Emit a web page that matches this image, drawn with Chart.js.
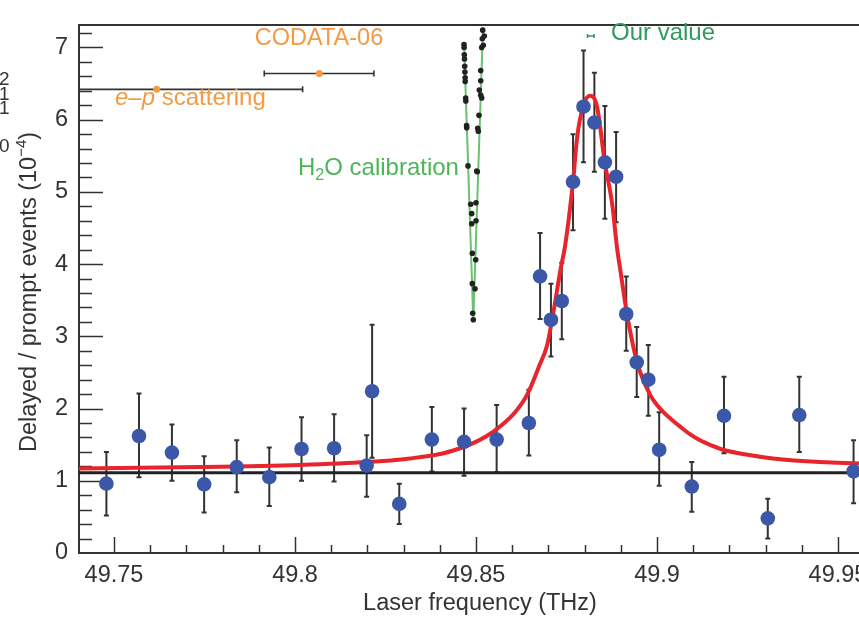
<!DOCTYPE html>
<html>
<head>
<meta charset="utf-8">
<script src="https://cdn.jsdelivr.net/npm/chart.js@4.4.0/dist/chart.umd.min.js"></script>
<style>
  html, body { margin: 0; padding: 0; background: #fff; overflow: hidden; }
  #wrap { width: 940px; height: 617px; }
</style>
</head>
<body>
<div id="wrap"><canvas id="c" width="940" height="617"></canvas></div>
<script>
// measured points (THz, delayed/prompt x1e-4) with error bar bounds
const freq = [49.7479, 49.7569, 49.7660, 49.7749, 49.7839, 49.7929, 49.8018, 49.8108,
  49.8198, 49.8213, 49.8288, 49.8378, 49.8467, 49.8557, 49.8646, 49.8677, 49.8707,
  49.8737, 49.8768, 49.8797, 49.8827, 49.8856, 49.8887, 49.8915, 49.8944, 49.8976,
  49.9006, 49.9096, 49.9185, 49.9306, 49.9393, 49.9543];
const ratio = [0.96, 1.62, 1.39, 0.95, 1.19, 1.05, 1.44, 1.45, 1.21, 2.24, 0.68, 1.57,
  1.54, 1.57, 1.80, 3.83, 3.23, 3.49, 5.14, 6.18, 5.96, 5.41, 5.21, 3.31, 2.64, 2.40,
  1.43, 0.92, 1.90, 0.48, 1.91, 1.13];
const errLo = [0.52, 1.05, 1.00, 0.56, 0.84, 0.65, 1.00, 0.99, 0.78, 1.32, 0.40, 1.13,
  1.07, 1.12, 1.35, 3.24, 2.72, 2.96, 4.47, 5.41, 5.28, 4.63, 4.58, 2.80, 2.16, 1.90,
  0.93, 0.57, 1.38, 0.20, 1.40, 0.69];
const errHi = [1.40, 2.21, 1.78, 1.34, 1.56, 1.46, 1.88, 1.92, 1.63, 3.16, 0.96, 2.02,
  2.00, 2.05, 2.26, 4.43, 3.73, 4.02, 5.80, 6.96, 6.65, 6.19, 5.83, 3.83, 3.13, 2.88,
  1.95, 1.26, 2.44, 0.75, 2.44, 1.56];

// fitted resonance curve
const fitFreq = [49.7403, 49.7738, 49.8014, 49.8199, 49.8318, 49.8401, 49.8450, 49.8483,
  49.8530, 49.8566, 49.8608, 49.8641, 49.8677, 49.8696, 49.8713, 49.8734, 49.8746,
  49.8768, 49.8779, 49.8796, 49.8815, 49.8834, 49.8856, 49.8876, 49.8890, 49.8898,
  49.8917, 49.8945, 49.8981, 49.9000, 49.9022, 49.9040, 49.9064, 49.9090, 49.9119,
  49.9150, 49.9182, 49.9250, 49.9320, 49.9450, 49.9700];
const fitRatio = [1.17, 1.19, 1.22, 1.26, 1.31, 1.37, 1.44, 1.50, 1.62, 1.75, 1.95, 2.19,
  2.62, 2.87, 3.31, 3.94, 4.25, 5.14, 5.74, 6.19, 6.33, 6.19, 5.40, 4.84, 4.21, 3.94,
  3.31, 2.64, 2.19, 2.05, 1.93, 1.85, 1.75, 1.65, 1.56, 1.49, 1.43, 1.36, 1.31, 1.26, 1.22];
const background = 1.11;

// H2O calibration scan
const calibLineFreq = [49.84669, 49.84925, 49.85193];
const calibLineY = [7.07, 3.22, 7.28];
const calibFreq = [49.84669, 49.84671, 49.84677, 49.84682, 49.84688, 49.84693, 49.84699,
  49.84702, 49.84715, 49.84718, 49.84740, 49.84743, 49.84779, 49.84854, 49.84881,
  49.84881, 49.84898, 49.84898, 49.84909, 49.84925,
  49.85185, 49.85229, 49.85174, 49.85202, 49.85157, 49.85130, 49.85130, 49.85091,
  49.85130, 49.85157, 49.85083, 49.85047, 49.85063, 49.85019, 49.85036, 49.85000,
  49.85000, 49.84992, 49.84972];
const calibY = [7.04, 7.00, 6.90, 6.84, 6.74, 6.66, 6.58, 6.53, 6.30, 6.26, 5.92, 5.89,
  5.36, 4.83, 4.70, 4.56, 4.15, 3.73, 3.32, 3.23,
  7.24, 7.16, 7.12, 7.03, 7.00, 6.68, 6.54, 6.41, 6.34, 6.30, 6.06, 5.88, 5.84, 5.29,
  5.28, 4.85, 4.60, 4.06, 3.66];

// previous determinations (horizontal bars)
const refFreq = [49.7618, 49.8067];
const refY = [6.42, 6.64];
const refLo = [49.7215, 49.7915];
const refHi = [49.8021, 49.8218];
const ourFreq = [49.8817];
const ourY = [7.16];
const ourLo = [49.8808];
const ourHi = [49.8826];

const xTicks = [49.75, 49.8, 49.85, 49.9, 49.95];
const xTickLabels = ['49.75', '49.8', '49.85', '49.9', '49.95'];
const yTicks = [0, 1, 2, 3, 4, 5, 6, 7];

const ink = '#333333';
const blue = '#3b57a8';
const red = '#e8242c';
const orange = '#f39a45';
const green = '#4db457';
const teal = '#2f9b5c';
const FONT = "'Liberation Sans', Arial, sans-serif";

const pts = (xs, ys) => xs.map((x, i) => ({ x: x, y: ys[i] }));

const extras = {
  id: 'extras',
  beforeDatasetsDraw(chart) {
    const ctx = chart.ctx, xs = chart.scales.x, ys = chart.scales.y, a = chart.chartArea;
    ctx.save();
    ctx.beginPath();
    ctx.rect(a.left, a.top - 2, a.right - a.left, a.bottom - a.top + 2);
    ctx.clip();
    // inward ticks
    ctx.strokeStyle = ink;
    ctx.lineWidth = 1.5;
    for (let k = 0; k <= 36; k++) {
      const py = Math.round(ys.getPixelForValue(k * 0.2)) + 0.5;
      const len = k % 5 === 0 ? 24 : 13;
      ctx.beginPath(); ctx.moveTo(a.left, py); ctx.lineTo(a.left + len, py); ctx.stroke();
    }
    for (let k = 0; k <= 23; k++) {
      const px = Math.round(xs.getPixelForValue(49.74 + k * 0.01)) + 0.5;
      const len = (k - 1) % 5 === 0 ? 16 : 8;
      ctx.beginPath(); ctx.moveTo(px, a.bottom); ctx.lineTo(px, a.bottom - len); ctx.stroke();
    }
    // vertical error bars
    ctx.lineWidth = 2;
    ctx.strokeStyle = ink;
    freq.forEach((f, i) => {
      const px = xs.getPixelForValue(f);
      const y1 = ys.getPixelForValue(errLo[i]), y2 = ys.getPixelForValue(errHi[i]);
      ctx.beginPath();
      ctx.moveTo(px, y1); ctx.lineTo(px, y2);
      ctx.moveTo(px - 2.5, y1); ctx.lineTo(px + 2.5, y1);
      ctx.moveTo(px - 2.5, y2); ctx.lineTo(px + 2.5, y2);
      ctx.stroke();
    });
    // horizontal bars of reference values
    ctx.lineWidth = 1.6;
    refFreq.forEach((f, i) => {
      const py = ys.getPixelForValue(refY[i]);
      const x1 = xs.getPixelForValue(refLo[i]), x2 = xs.getPixelForValue(refHi[i]);
      ctx.beginPath();
      ctx.moveTo(x1, py); ctx.lineTo(x2, py);
      ctx.moveTo(x1, py - 3); ctx.lineTo(x1, py + 3);
      ctx.moveTo(x2, py - 3); ctx.lineTo(x2, py + 3);
      ctx.stroke();
    });
    ctx.strokeStyle = teal;
    ourFreq.forEach((f, i) => {
      const py = ys.getPixelForValue(ourY[i]);
      const x1 = xs.getPixelForValue(ourLo[i]), x2 = xs.getPixelForValue(ourHi[i]);
      ctx.beginPath();
      ctx.moveTo(x1, py); ctx.lineTo(x2, py);
      ctx.moveTo(x1, py - 2); ctx.lineTo(x1, py + 2);
      ctx.moveTo(x2, py - 2); ctx.lineTo(x2, py + 2);
      ctx.stroke();
    });
    ctx.restore();
  },
  afterDraw(chart) {
    const ctx = chart.ctx, a = chart.chartArea;
    ctx.save();
    // top frame line
    ctx.strokeStyle = ink;
    ctx.lineWidth = 2;
    ctx.beginPath(); ctx.moveTo(a.left, a.top); ctx.lineTo(a.right + 20, a.top); ctx.stroke();

    ctx.textBaseline = 'middle';
    // axis titles
    ctx.fillStyle = ink;
    ctx.font = '23.5px ' + FONT;
    ctx.textAlign = 'center';
    ctx.fillText('Laser frequency (THz)', 480, 604);

    ctx.save();
    ctx.translate(30, 292);
    ctx.rotate(-Math.PI / 2);
    const main = 'Delayed / prompt events (10', sup = '\u22124', tail = ')';
    ctx.font = '23.5px ' + FONT;
    const w1 = ctx.measureText(main).width, w3 = ctx.measureText(tail).width;
    ctx.font = '15px ' + FONT;
    const w2 = ctx.measureText(sup).width;
    let x0 = -(w1 + w2 + w3) / 2;
    ctx.textAlign = 'left';
    ctx.font = '23.5px ' + FONT;
    ctx.fillText(main, x0, 0);
    ctx.font = '15px ' + FONT;
    ctx.fillText(sup, x0 + w1, -8);
    ctx.font = '23.5px ' + FONT;
    ctx.fillText(tail, x0 + w1 + w2, 0);
    ctx.restore();

    // annotations
    ctx.fillStyle = orange;
    ctx.font = '23.5px ' + FONT;
    ctx.textAlign = 'center';
    ctx.fillText('CODATA-06', 319, 39);
    ctx.textAlign = 'left';
    let x = 115;
    const seg = [['e', true], ['\u2013', false], ['p', true], [' scattering', false]];
    seg.forEach(s => {
      ctx.font = (s[1] ? 'italic ' : '') + '24px ' + FONT;
      ctx.fillText(s[0], x, 98);
      x += ctx.measureText(s[0]).width;
    });

    ctx.fillStyle = green;
    x = 298;
    ctx.font = '24px ' + FONT;
    ctx.fillText('H', x, 168); x += ctx.measureText('H').width;
    ctx.font = '16px ' + FONT;
    ctx.fillText('2', x, 176); x += ctx.measureText('2').width;
    ctx.font = '24px ' + FONT;
    ctx.fillText('O calibration', x, 168);

    ctx.fillStyle = teal;
    ctx.fillText('Our value', 611, 33);

    // stray labels from a neighbouring panel
    ctx.fillStyle = ink;
    ctx.font = '19px ' + FONT;
    ctx.fillText('2', -1, 80);
    ctx.fillText('1', -1, 95);
    ctx.fillText('1', -1, 109);
    ctx.fillText('0', -1, 147);
    ctx.restore();
  }
};

new Chart(document.getElementById('c'), {
  type: 'scatter',
  data: {
    datasets: [
      { data: pts(freq, ratio), pointRadius: 7.3, pointBackgroundColor: blue,
        pointBorderWidth: 0, order: 0 },
      { data: pts(refFreq, refY), pointRadius: 3.5, pointBackgroundColor: orange,
        pointBorderWidth: 0, order: 0 },
      { data: pts(calibFreq, calibY), pointRadius: 2.8, pointBackgroundColor: '#222',
        pointBorderWidth: 0, order: 1 },
      { data: pts(fitFreq, fitRatio), showLine: true, pointRadius: 0, borderColor: red,
        borderWidth: 4, cubicInterpolationMode: 'monotone', order: 2 },
      { data: pts(calibLineFreq, calibLineY), showLine: true, pointRadius: 0,
        borderColor: '#6cc072', borderWidth: 2, order: 3 },
      { data: pts([49.74033, 49.97265], [background, background]), showLine: true,
        pointRadius: 0, borderColor: '#222', borderWidth: 3, order: 4 }
    ]
  },
  options: {
    responsive: false,
    devicePixelRatio: 1,
    animation: false,
    layout: { padding: { left: 0, top: 10, right: 20, bottom: 0 } },
    plugins: { legend: { display: false }, tooltip: { enabled: false } },
    scales: {
      x: {
        type: 'linear', min: 49.74033, max: 49.97265,
        grid: { display: false, drawTicks: false },
        border: { display: true, color: ink, width: 2 },
        ticks: { color: ink, font: { size: 23.5, family: FONT }, padding: 8,
          autoSkip: false, maxRotation: 0,
          callback: (v, i) => xTickLabels[i] },
        afterBuildTicks: s => { s.ticks = xTicks.map(v => ({ value: v })); },
        afterFit: s => { s.height = 64; }
      },
      y: {
        type: 'linear', min: 0, max: 7.31,
        grid: { display: false, drawTicks: false },
        border: { display: true, color: ink, width: 2 },
        ticks: { color: ink, font: { size: 23.5, family: FONT }, padding: 11,
          callback: v => String(v) },
        afterBuildTicks: s => { s.ticks = yTicks.map(v => ({ value: v })); },
        afterFit: s => { s.width = 79; }
      }
    }
  },
  plugins: [extras]
});
</script>
</body>
</html>
